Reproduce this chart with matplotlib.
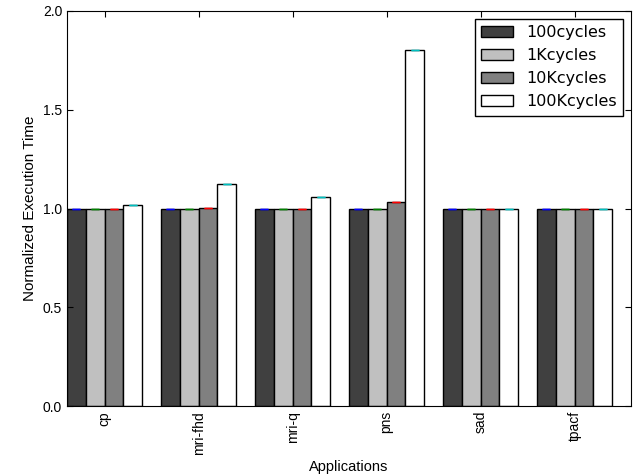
import matplotlib
matplotlib.use("Agg")
import matplotlib.pyplot as plt
import numpy as np

apps = ["cp", "mri-fhd", "mri-q", "pns", "sad", "tpacf"]
series = ["100cycles", "1Kcycles", "10Kcycles", "100Kcycles"]
v100 = [1.0, 1.0, 1.0, 1.0, 1.0, 1.0]
v1k = [1.0, 1.0, 1.0, 1.0, 1.0, 1.0]
v10k = [1.0, 1.005, 1.0, 1.035, 1.0, 1.0]
v100k = [1.02, 1.125, 1.06, 1.8, 1.0, 1.0]
values = [v100, v1k, v10k, v100k]
fills = ["#404040", "#c0c0c0", "#808080", "#ffffff"]
ecolors = ["b", "g", "r", "c"]

lab_font = "Liberation Sans"

fig = plt.figure(figsize=(6.39, 4.75), dpi=100, facecolor="white")
ax = fig.add_axes([0.105, 0.145, 0.8825, 0.832])
x = np.arange(len(apps))
w = 0.2
for i, (vals, fc, ec, name) in enumerate(zip(values, fills, ecolors, series)):
    pos = x - 0.4 + i * w
    ax.bar(pos, vals, width=w, align="edge", color=fc, edgecolor="black",
           linewidth=1.0, label=name)
    ax.errorbar(pos + w / 2, vals, yerr=0, fmt="none", ecolor=ec, capsize=3,
                elinewidth=1, capthick=1)

ax.set_xlim(-0.4, 5.6)
ax.set_ylim(0, 2.0)
ax.set_yticks([0.0, 0.5, 1.0, 1.5, 2.0])
ax.set_xticks(x)
ax.set_xticklabels(apps, rotation=90, fontsize=10, family=lab_font)
for t in ax.get_yticklabels():
    t.set_family(lab_font)
    t.set_fontsize(10)
ax.tick_params(direction="in", top=True, right=True, length=4)
ax.set_xlabel("Applications", fontsize=10.5, family=lab_font)
ax.set_ylabel("Normalized Execution Time", fontsize=11, family=lab_font)
leg = ax.legend(loc="upper right", prop={"family": "DejaVu Sans", "size": 11.5},
                fancybox=False, framealpha=1, edgecolor="black",
                handlelength=2.0, labelspacing=0.5, borderpad=0.4,
                handletextpad=0.8, borderaxespad=0.5)
leg.get_frame().set_linewidth(1.0)
fig.savefig("out.png", dpi=100, facecolor="white")
